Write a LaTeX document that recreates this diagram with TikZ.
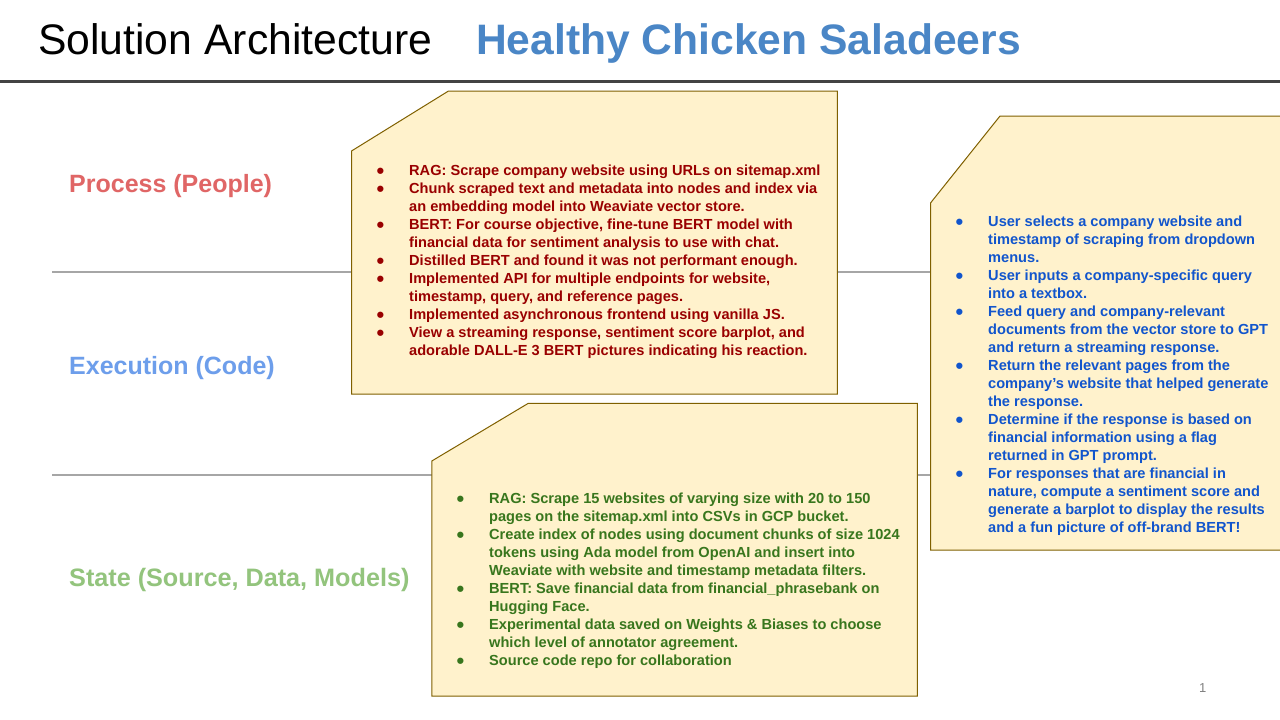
\documentclass[tikz,border=0pt]{standalone}
\usepackage{fontspec}
\setmainfont{Liberation Sans}
\usepackage{array}
\definecolor{notefill}{HTML}{FFF2CC}
\definecolor{notebd}{HTML}{7F6000}
\definecolor{titleblue}{HTML}{4A86C6}
\definecolor{procred}{HTML}{E06666}
\definecolor{execblue}{HTML}{6D9EEB}
\definecolor{stategreen}{HTML}{93C47D}
\definecolor{txtred}{HTML}{990000}
\definecolor{txtblue}{HTML}{1155CC}
\definecolor{txtgreen}{HTML}{38761D}
\definecolor{sepgray}{HTML}{A6A6A6}
\definecolor{topline}{HTML}{434343}
\newcommand\bb{\hspace*{-0.5pt}\raisebox{-3.1pt}[0pt][0pt]{\scalebox{1.5}{\textbullet}}}
\begin{document}
\begin{tikzpicture}[x=1pt,y=-1pt,
  notebox/.style={draw=notebd, fill=notefill, line width=1pt},
  notetext/.style={anchor=base west, inner sep=0pt, align=left,
    font=\bfseries\fontsize{14.6}{18}\selectfont},
  lanelabel/.style={anchor=base west, inner sep=0pt,
    font=\bfseries\fontsize{25}{30}\selectfont},
  lane/.style={draw=sepgray, line width=2pt}]
\useasboundingbox (0,0) rectangle (1280,720);
\fill[white] (0,0) rectangle (1280,720);

% title
\node[anchor=base west, inner sep=0pt, font=\fontsize{42.7}{50}\selectfont] (title) at (38,54.5) {Solution Architecture};
\node[anchor=base west, inner sep=0pt, font=\bfseries\fontsize{42.6}{50}\selectfont, text=titleblue] (team) at (476,54.5) {Healthy Chicken Saladeers};
\draw[topline, line width=3pt] (0,81.3) -- (1280,81.3);

% lane separators
\coordinate (l1a) at (52,272.3);
\coordinate (l1b) at (1280,272.3);
\coordinate (l2a) at (52,475);
\coordinate (l2b) at (1280,475);
\draw[lane] (l1a) -- (l1b);
\draw[lane] (l2a) -- (l2b);

% lane labels
\node[lanelabel, text=procred] (proc) at (69,192.7) {Process (People)};
\node[lanelabel, text=execblue] (exec) at (69,374) {Execution (Code)};
\node[lanelabel, text=stategreen, font=\bfseries\fontsize{25.2}{30}\selectfont] (state) at (69,586.7) {State (Source, Data, Models)};

% note shapes
\draw[notebox] (351.5,151) -- (448.5,91) -- (837.3,91) -- (837.3,394) -- (351.5,394) -- cycle;
\draw[notebox] (930.5,203) -- (1000,116) -- (1285,116) -- (1285,550) -- (930.5,550) -- cycle;
\draw[notebox] (431.8,461) -- (528.3,403.3) -- (917.3,403.3) -- (917.3,696) -- (431.8,696) -- cycle;

% note texts
\node[notetext, text=txtred] (proctext) at (377,175) {\begin{tabular}[t]{@{}p{32pt}@{}l@{}}
\bb & RAG: Scrape company website using URLs on sitemap.xml\\
\bb & Chunk scraped text and metadata into nodes and index via\\
 & an embedding model into Weaviate vector store.\\
\bb & BERT: For course objective, fine-tune BERT model with\\
 & financial data for sentiment analysis to use with chat.\\
\bb & Distilled BERT and found it was not performant enough.\\
\bb & Implemented API for multiple endpoints for website,\\
 & timestamp, query, and reference pages.\\
\bb & Implemented asynchronous frontend using vanilla JS.\\
\bb & View a streaming response, sentiment score barplot, and\\
 & adorable DALL-E 3 BERT pictures indicating his reaction.
\end{tabular}};

\node[notetext, text=txtblue] (exectext) at (956,226.5) {\begin{tabular}[t]{@{}p{32pt}@{}l@{}}
\bb & User selects a company website and\\
 & timestamp of scraping from dropdown\\
 & menus.\\
\bb & User inputs a company-specific query\\
 & into a textbox.\\
\bb & Feed query and company-relevant\\
 & documents from the vector store to GPT\\
 & and return a streaming response.\\
\bb & Return the relevant pages from the\\
 & company’s website that helped generate\\
 & the response.\\
\bb & Determine if the response is based on\\
 & financial information using a flag\\
 & returned in GPT prompt.\\
\bb & For responses that are financial in\\
 & nature, compute a sentiment score and\\
 & generate a barplot to display the results\\
 & and a fun picture of off-brand BERT!
\end{tabular}};

\node[notetext, text=txtgreen] (statetext) at (457,503) {\begin{tabular}[t]{@{}p{32pt}@{}l@{}}
\bb & RAG: Scrape 15 websites of varying size with 20 to 150\\
 & pages on the sitemap.xml into CSVs in GCP bucket.\\
\bb & Create index of nodes using document chunks of size 1024\\
 & tokens using Ada model from OpenAI and insert into\\
 & Weaviate with website and timestamp metadata filters.\\
\bb & BERT: Save financial data from financial\_phrasebank on\\
 & Hugging Face.\\
\bb & Experimental data saved on Weights \& Biases to choose\\
 & which level of annotator agreement.\\
\bb & Source code repo for collaboration
\end{tabular}};

% page number
\node[anchor=base west, inner sep=0pt, text=gray, font=\fontsize{13}{15}\selectfont] (pagenum) at (1199,692) {1};
\end{tikzpicture}
\end{document}
